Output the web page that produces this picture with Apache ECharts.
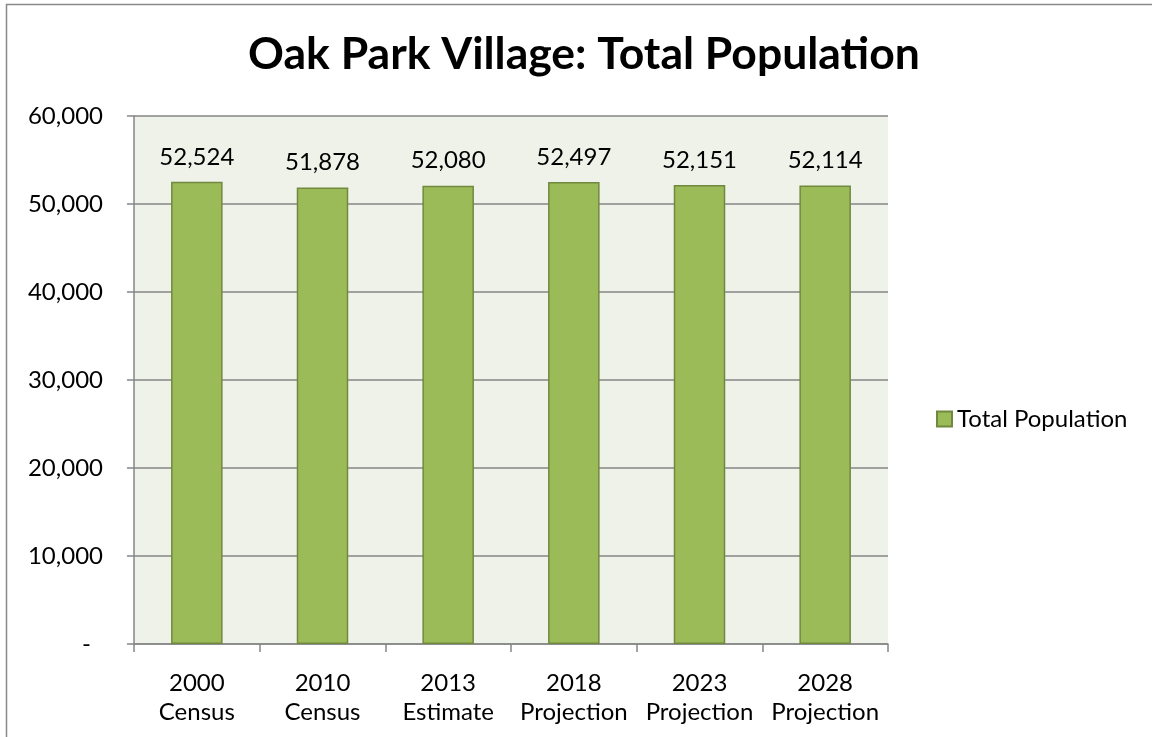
<!DOCTYPE html>
<html>
<head>
<meta charset="utf-8">
<style>
  html, body { margin: 0; padding: 0; background: #ffffff; }
  #chart { width: 1152px; height: 737px; }
</style>
<script src="https://cdn.jsdelivr.net/npm/echarts@6/dist/echarts.min.js"></script>
</head>
<body>
<div id="chart"></div>
<script>
// Oak Park Village population by census / estimate / projection year
const categories = ['2000\nCensus', '2010\nCensus', '2013\nEstimate', '2018\nProjection', '2023\nProjection', '2028\nProjection'];
const population = [52524, 51878, 52080, 52497, 52151, 52114];
const yTicks = [0, 10000, 20000, 30000, 40000, 50000, 60000];

const FONT = 'Lato';
const fmt = v => v.toLocaleString('en-US');
// accounting-style axis: zero is shown as a dash, set in from the right
const axisFmt = v => v === 0 ? '{dash|-}' : fmt(v);

const chart = echarts.init(document.getElementById('chart'), null, { renderer: 'canvas' });

chart.setOption({
  backgroundColor: '#ffffff',
  animation: false,
  textStyle: { fontFamily: FONT, color: '#000000' },
  title: {
    text: 'Oak Park Village: Total Population',
    left: 579,
    top: 27,
    textAlign: 'center',
    textStyle: { fontFamily: FONT, fontSize: 44.5, fontWeight: 'bold', color: '#000000' }
  },
  legend: {
    left: 931,
    top: 402,
    orient: 'vertical',
    itemWidth: 15,
    itemHeight: 15,
    itemGap: 6,
    icon: 'rect',
    textStyle: { fontFamily: FONT, fontSize: 24, color: '#000000', padding: [0, 0, 0, 0] },
    data: ['Total Population']
  },
  grid: {
    left: 134,
    top: 116,
    right: 264,
    bottom: 93,
    show: true,
    backgroundColor: '#EFF2E9',
    borderWidth: 0
  },
  xAxis: {
    type: 'category',
    data: categories,
    axisLine: { lineStyle: { color: '#868686', width: 1.5 } },
    axisTick: { show: true, length: 8, lineStyle: { color: '#868686', width: 1.5 } },
    axisLabel: {
      fontFamily: FONT,
      fontSize: 24,
      color: '#000000',
      margin: 25,
      lineHeight: 29,
      interval: 0
    },
    splitLine: { show: false }
  },
  yAxis: {
    type: 'value',
    min: yTicks[0],
    max: yTicks[yTicks.length - 1],
    interval: yTicks[1] - yTicks[0],
    axisLine: { show: true, lineStyle: { color: '#868686', width: 1.5 } },
    axisTick: { show: true, length: 7, lineStyle: { color: '#868686', width: 1.5 } },
    axisLabel: {
      fontFamily: FONT,
      fontSize: 24,
      color: '#000000',
      margin: 31,
      formatter: axisFmt,
      rich: {
        dash: { fontFamily: FONT, fontSize: 24, color: '#000000', padding: [0, 12, 0, 0] }
      }
    },
    splitLine: { show: true, lineStyle: { color: '#868686', width: 1.5 } }
  },
  series: [{
    name: 'Total Population',
    type: 'bar',
    data: population,
    barCategoryGap: '59%',
    itemStyle: { color: '#9BBB59', borderColor: '#71893F', borderWidth: 1.5 },
    label: {
      show: true,
      position: 'top',
      distance: 13,
      fontFamily: FONT,
      fontSize: 24,
      color: '#000000',
      formatter: p => fmt(p.value)
    }
  }],
  graphic: [{
    type: 'rect',
    silent: true,
    shape: { x: 6.5, y: 4.5, width: 1300, height: 900 },
    style: { fill: 'none', stroke: '#898989', lineWidth: 1.5 }
  }]
});
</script>
</body>
</html>
